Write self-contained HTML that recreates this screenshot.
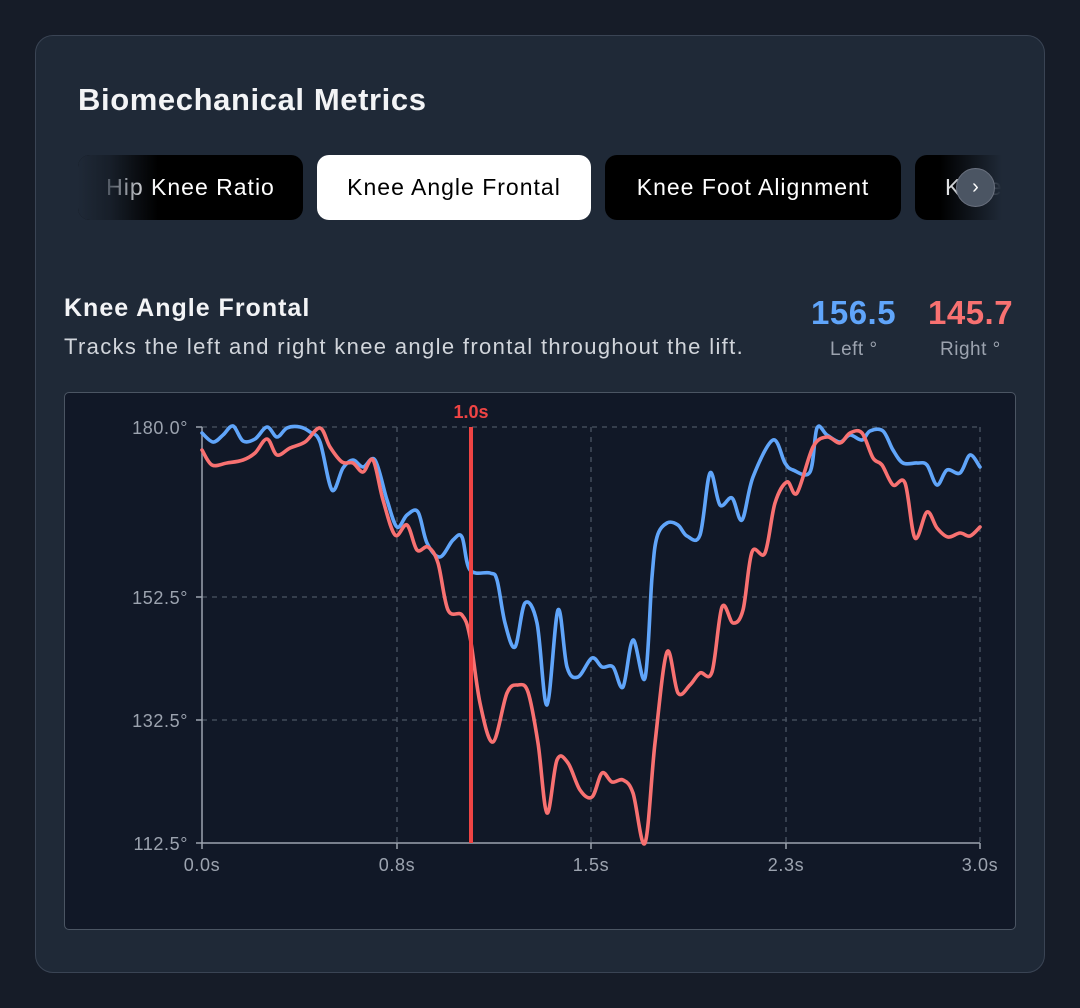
<!DOCTYPE html>
<html><head><meta charset="utf-8"><style>
*{margin:0;padding:0;box-sizing:border-box}
body{width:1080px;height:1008px;background:#161c28;font-family:"Liberation Sans",sans-serif;position:relative;overflow:hidden}
.card{position:absolute;left:35px;top:35px;width:1010px;height:938px;background:#1f2937;border:1.5px solid #3a4454;border-radius:18px}
.abs{position:absolute;white-space:nowrap}
.tab{position:absolute;top:155px;height:65px;border-radius:12px;background:#000;color:#fff;font-size:23px;line-height:65px;text-align:center;letter-spacing:1px}
</style></head><body>
<div class="card"></div>
<div class="abs" style="left:78px;top:82px;font-size:31px;font-weight:bold;color:#f3f4f6;letter-spacing:0.6px">Biomechanical Metrics</div>
<div class="tab" style="left:78px;width:225px">Hip Knee Ratio</div>
<div class="abs" style="left:78px;top:155px;width:80px;height:65px;border-radius:12px 0 0 12px;background:linear-gradient(90deg,#1f2937 0%,rgba(31,41,55,0.75) 40%,rgba(31,41,55,0) 100%)"></div>
<div class="tab" style="left:317px;width:274px;background:#fff;color:#000">Knee Angle Frontal</div>
<div class="tab" style="left:605px;width:296px">Knee Foot Alignment</div>
<div class="tab" style="left:915px;width:87px;text-align:left;padding-left:30px;overflow:hidden;border-radius:12px 0 0 12px">Knee</div>
<div class="abs" style="left:940px;top:155px;width:62px;height:65px;background:linear-gradient(90deg,rgba(31,41,55,0) 0%,#1f2937 100%)"></div>
<div class="abs" style="left:956px;top:168px;width:39px;height:39px;border-radius:50%;background:#4b5563;border:1px solid #6b7280;color:#fff;font-size:20px;line-height:36px;text-align:center">&#x203A;</div>
<div class="abs" style="left:64px;top:294px;font-size:25px;font-weight:bold;color:#f3f4f6;letter-spacing:1px">Knee Angle Frontal</div>
<div class="abs" style="left:64px;top:334px;font-size:22px;color:#d1d5db;letter-spacing:1.35px">Tracks the left and right knee angle frontal throughout the lift.</div>
<div class="abs" style="left:811px;top:294px;font-size:33px;font-weight:bold;color:#60a5fa;letter-spacing:0.5px">156.5</div>
<div class="abs" style="left:830px;top:339px;font-size:19px;color:#9ca3af;letter-spacing:0.5px">Left °</div>
<div class="abs" style="left:928px;top:294px;font-size:33px;font-weight:bold;color:#f87171;letter-spacing:0.5px">145.7</div>
<div class="abs" style="left:940px;top:339px;font-size:19px;color:#9ca3af;letter-spacing:0.5px">Right °</div>
<div class="abs" style="left:64px;top:392px;width:952px;height:538px;background:#111827;border:1.5px solid #4b5563;border-radius:5px"></div>
<svg class="abs" style="left:0;top:0" width="1080" height="1008" font-family="Liberation Sans, sans-serif">
<g stroke="#4b5563" stroke-width="1.3" stroke-dasharray="5,5" fill="none">
<line x1="202" y1="427" x2="980" y2="427"/><line x1="202" y1="597" x2="980" y2="597"/><line x1="202" y1="720" x2="980" y2="720"/>
<line x1="397" y1="427" x2="397" y2="843"/><line x1="591" y1="427" x2="591" y2="843"/><line x1="786" y1="427" x2="786" y2="843"/><line x1="980" y1="427" x2="980" y2="843"/>
</g>
<g stroke="#9ca3af" stroke-width="1.5">
<line x1="202" y1="427" x2="202" y2="843"/><line x1="202" y1="843" x2="980" y2="843"/>
<line x1="196" y1="427" x2="202" y2="427"/><line x1="196" y1="597" x2="202" y2="597"/><line x1="196" y1="720" x2="202" y2="720"/><line x1="196" y1="843" x2="202" y2="843"/>
<line x1="202" y1="843" x2="202" y2="849"/><line x1="397" y1="843" x2="397" y2="849"/><line x1="591" y1="843" x2="591" y2="849"/><line x1="786" y1="843" x2="786" y2="849"/><line x1="980" y1="843" x2="980" y2="849"/>
</g>
<g fill="#9ca3af" font-size="18" text-anchor="end" letter-spacing="0.6">
<text x="188" y="434">180.0°</text><text x="188" y="604">152.5°</text><text x="188" y="727">132.5°</text><text x="188" y="850">112.5°</text>
</g>
<g fill="#9ca3af" font-size="18" text-anchor="middle" letter-spacing="0.6">
<text x="202" y="871">0.0s</text><text x="397" y="871">0.8s</text><text x="591" y="871">1.5s</text><text x="786" y="871">2.3s</text><text x="980" y="871">3.0s</text>
</g>
<g fill="none" stroke-width="3.6" stroke-linejoin="round" stroke-linecap="round">
<polyline class="ln" stroke="#60a5fa" points="202,433 213,442 223,435 233,426 243,441 255,439 267,427 277,437 287,428 300,427 310,432 320,442 332,490 343,468 353,460 363,467 375,460 387,500 397,527 407,515 418,512 427,543 440,557 453,540 462,537 470,570 490,573 497,580 505,623 515,647 525,603 537,623 547,705 558,610 567,667 578,677 592,658 602,667 613,667 623,687 633,640 645,678 652,577 657,537 667,523 678,525 687,536 700,535 710,473 720,505 732,498 742,520 753,477 773,440 785,463 793,470 810,472 817,428 827,435 840,442 850,435 862,440 870,431 883,431 893,450 903,463 917,463 927,465 937,485 947,470 960,473 970,455 980,467"/>
<polyline class="ln" stroke="#f87171" points="202,450 212,465 227,463 243,460 255,453 267,439 277,455 290,448 305,442 320,428 330,447 342,462 353,463 363,472 373,460 383,500 395,535 407,525 417,550 428,547 438,563 448,610 462,615 470,637 480,703 493,742 507,693 518,685 528,692 538,743 547,813 557,760 568,763 580,790 592,797 602,773 612,782 623,780 633,793 645,843 655,743 667,652 678,693 690,685 700,673 712,672 722,607 733,623 743,610 752,552 765,553 775,503 787,482 797,493 813,447 827,437 840,443 850,433 862,433 873,458 882,465 893,485 905,483 915,538 927,512 937,528 948,537 960,533 970,536 980,527"/>
</g>
<line x1="471" y1="427" x2="471" y2="843" stroke="#ef4444" stroke-width="4"/>
<text x="471" y="418" fill="#ef4444" font-size="18" font-weight="bold" text-anchor="middle">1.0s</text>
</svg>
<script>
try{
document.querySelectorAll('polyline.ln').forEach(function(pl){
var p=pl.getAttribute('points').trim().split(/\s+/).map(function(s){return s.split(',').map(Number);});
var d='M'+p[0][0]+','+p[0][1];
for(var i=0;i<p.length-1;i++){
var p0=p[i-1]||p[i],p1=p[i],p2=p[i+1],p3=p[i+2]||p2,t=0.18*1;
var c1x=p1[0]+(p2[0]-p0[0])/6,c1y=p1[1]+(p2[1]-p0[1])/6;
var c2x=p2[0]-(p3[0]-p1[0])/6,c2y=p2[1]-(p3[1]-p1[1])/6;
d+=' C'+c1x.toFixed(1)+','+c1y.toFixed(1)+' '+c2x.toFixed(1)+','+c2y.toFixed(1)+' '+p2[0]+','+p2[1];
}
var path=document.createElementNS('http://www.w3.org/2000/svg','path');
path.setAttribute('d',d);path.setAttribute('stroke',pl.getAttribute('stroke'));
pl.parentNode.replaceChild(path,pl);
});
}catch(e){}
</script>
</body></html>
